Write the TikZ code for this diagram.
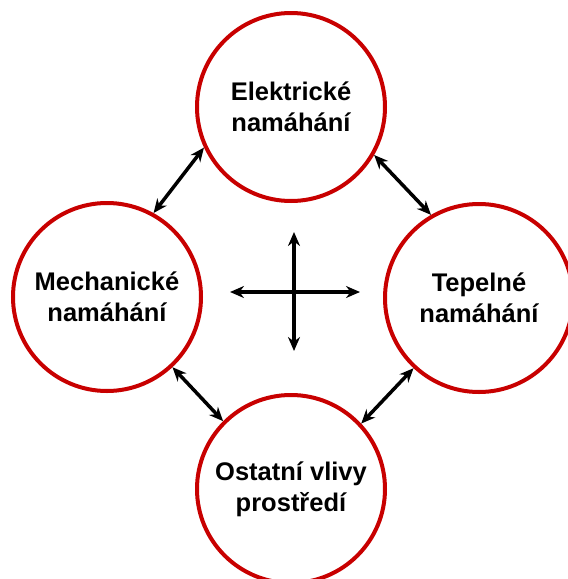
\documentclass[tikz,border=0pt]{standalone}
\usepackage{fontspec}
\setmainfont{Liberation Sans}
\usetikzlibrary{arrows.meta}
\definecolor{ringred}{RGB}{200,0,0}
\tikzset{
  ring/.style={circle, draw=ringred, line width=4pt, minimum size=188pt, inner sep=0pt,
    align=center, font=\fontsize{25.5}{31}\selectfont\bfseries, text=black},
  link/.style={line width=3.5pt, {Stealth[length=14pt,width=12pt]}-{Stealth[length=14pt,width=12pt]}}
}
\begin{document}
\begin{tikzpicture}[x=1pt,y=-1pt]
\useasboundingbox (0,0) rectangle (568,579);
\node[ring] (el) at (291,107) {Elektrické\\namáhání};
\node[ring] (me) at (107,297) {Mechanické\\namáhání};
\node[ring] (te) at (479,298) {Tepelné\\namáhání};
\node[ring] (os) at (291,489) {Ostatní vlivy\\prostředí};
\draw[link] (el.205.5) -- (me.61);
\draw[link] (el.330.5) -- (te.120);
\draw[link] (me.313) -- (os.135);
\draw[link] (te.227) -- (os.43);
\coordinate (hl) at (230,292);
\coordinate (hr) at (360,292);
\coordinate (vt) at (294,232);
\coordinate (vb) at (294,351);
\draw[link] (hl) -- (hr);
\draw[link] (vt) -- (vb);
\end{tikzpicture}
\end{document}
